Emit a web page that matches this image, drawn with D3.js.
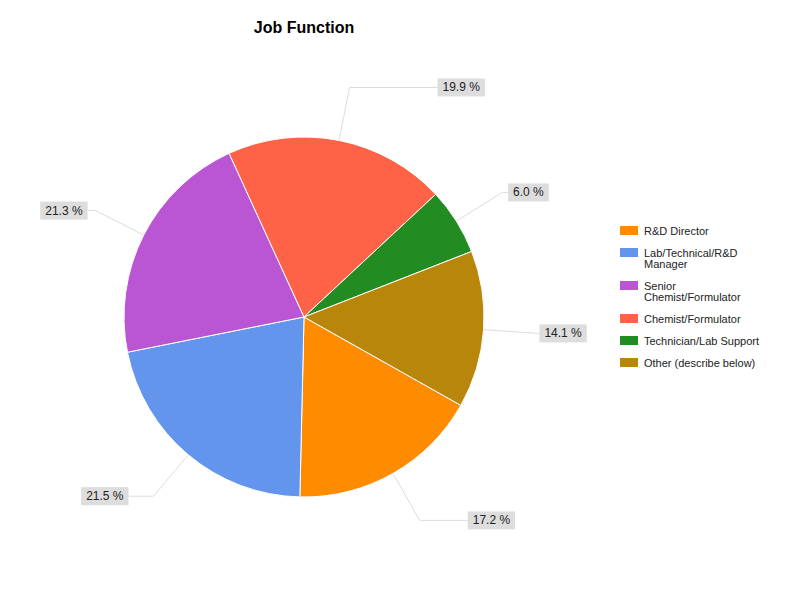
<!DOCTYPE html>
<html><head><meta charset="utf-8">
<script src="https://cdn.jsdelivr.net/npm/d3@7"></script>
<style>body{margin:0;background:#fff;font-family:Arial,"Liberation Sans",sans-serif}</style>
</head><body><div id="chart"></div>
<script>
// slices, clockwise
var categories = ["R&D Director", "Lab/Technical/R&D Manager", "Senior Chemist/Formulator",
  "Chemist/Formulator", "Technician/Lab Support", "Other (describe below)"];
var legendLines = [["R&D Director"], ["Lab/Technical/R&D", "Manager"], ["Senior", "Chemist/Formulator"],
  ["Chemist/Formulator"], ["Technician/Lab Support"], ["Other (describe below)"]];
var values = [17.2, 21.5, 21.3, 19.9, 6.0, 14.1];
var colors = ["#ff8c00", "#6495ed", "#ba55d3", "#ff6347", "#228b22", "#b8860b"];
// extra horizontal run of the leader line per label
var lineRun = [48, 25, 8, 88, 6, 2];

var width = 800, height = 600, cx = 304, cy = 317, r = 180;
var startA = 119.4 * Math.PI / 180;

var svg = d3.select("#chart").append("svg").attr("width", width).attr("height", height);

svg.append("text").attr("x", 304).attr("y", 33).attr("text-anchor", "middle")
  .style("font-size", "16px").style("font-weight", "bold").text("Job Function");

var pie = d3.pie().sort(null).startAngle(startA).endAngle(startA + 2 * Math.PI);
var arcs = pie(values);
var arc = d3.arc().innerRadius(0).outerRadius(r);

var g = svg.append("g").attr("transform", "translate(" + cx + "," + cy + ")");
g.selectAll("path.slice").data(arcs).enter().append("path")
  .attr("d", arc)
  .attr("fill", function(d, i) { return colors[i]; })
  .attr("stroke", "#fff").attr("stroke-width", 1);

function pt(a, rad) { return [rad * Math.sin(a), -rad * Math.cos(a)]; }

arcs.forEach(function(d, i) {
  var m = (d.startAngle + d.endAngle) / 2;
  var p0 = pt(m, r), p1 = pt(m, 234);
  var right = Math.sin(m) >= 0;
  var x2 = p1[0] + (right ? 1 : -1) * lineRun[i];
  g.append("polyline")
    .attr("points", [p0, p1, [x2, p1[1]]].map(function(p) { return p.join(","); }).join(" "))
    .attr("fill", "none").attr("stroke", "#ddd").attr("stroke-width", 1);
  var label = values[i].toFixed(1) + " %";
  var t = g.append("text").attr("y", p1[1] + 4).style("font-size", "12px").attr("fill", "#222").text(label);
  var w = t.node().getComputedTextLength() + 10;
  var bx = right ? x2 : x2 - w;
  t.attr("x", bx + 5);
  g.insert("rect", "text:last-of-type").attr("x", bx).attr("y", p1[1] - 9)
    .attr("width", w).attr("height", 18).attr("fill", "#ddd");
});

var lg = svg.append("g").attr("transform", "translate(620,224)");
var yy = 0;
legendLines.forEach(function(lines, i) {
  lg.append("rect").attr("x", 0).attr("y", yy + 2).attr("width", 18).attr("height", 9).attr("fill", colors[i]);
  lines.forEach(function(s, k) {
    lg.append("text").attr("x", 24).attr("y", yy + 11 + k * 11).style("font-size", "11px").attr("fill", "#222").text(s);
  });
  yy += 11 * lines.length + 11;
});
</script></body></html>
